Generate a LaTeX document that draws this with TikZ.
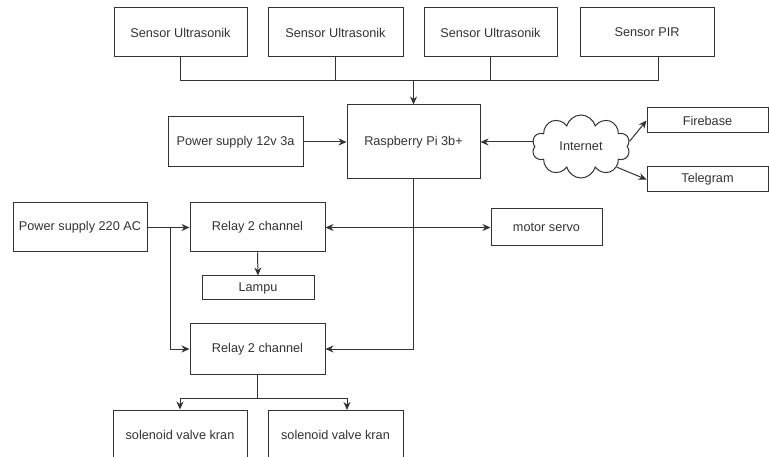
\documentclass[tikz,border=0pt]{standalone}
\usepackage{fontspec}
\setmainfont{Liberation Sans}
\usetikzlibrary{arrows.meta,shapes.symbols}
\begin{document}
\begin{tikzpicture}[x=1pt,y=-1pt,
  box/.style={draw=black!80, line width=1pt, fill=white, inner sep=0pt, font=\fontsize{12.7}{14}\selectfont, text=black!80},
  wire/.style={draw=black!80, line width=1pt},
  arr/.style={wire, -{Stealth[length=8pt,width=7pt]}},
  darr/.style={wire, {Stealth[length=8pt,width=7pt]}-{Stealth[length=8pt,width=7pt]}}]
\clip (0,0) rectangle (769,457);
\fill[white] (0,0) rectangle (769,457);
% sensors
\node[box, minimum width=133, minimum height=49] (s1) at (180.5,32.5) {Sensor Ultrasonik};
\node[box, minimum width=135, minimum height=49] (s2) at (335.5,32.5) {Sensor Ultrasonik};
\node[box, minimum width=133, minimum height=49] (s3) at (490.5,32.5) {Sensor Ultrasonik};
\node[box, minimum width=134, minimum height=49] (s4) at (647,32.5) {Sensor PIR};
% middle row
\node[box, minimum width=133, minimum height=74] (rp) at (413.5,142) {Raspberry Pi 3b+};
\node[box, minimum width=135, minimum height=50] (ps12) at (235.5,142) {Power supply 12v 3a};
\node[cloud, draw=black!80, line width=1pt, fill=white, cloud puffs=10, cloud ignores aspect, minimum width=98, minimum height=63, inner sep=0pt, font=\fontsize{12.7}{14}\selectfont, text=black!80] (cl) at (581,146.5) {Internet};
\node[box, minimum width=121, minimum height=25] (fb) at (707.5,120.5) {Firebase};
\node[box, minimum width=121, minimum height=25] (tg) at (707.5,179.5) {Telegram};
% lower rows
\node[box, minimum width=134, minimum height=49] (ps220) at (80,227.5) {Power supply 220 AC};
\node[box, minimum width=135, minimum height=49] (r1) at (257.5,227.5) {Relay 2 channel};
\node[box, minimum width=112, minimum height=24] (lampu) at (258,288) {Lampu};
\node[box, minimum width=111, minimum height=37] (ms) at (546.5,227.5) {motor servo};
\node[box, minimum width=135, minimum height=50] (r2) at (257.5,349) {Relay 2 channel};
\node[box, minimum width=134, minimum height=50] (sol1) at (180,435) {solenoid valve kran};
\node[box, minimum width=135, minimum height=50] (sol2) at (335.5,435) {solenoid valve kran};
% sensor bus
\coordinate (bus) at (413.5,81);
\coordinate (s4p) at (658,57);
\draw[wire] (s1.south) -- (s1.south |- bus) -- (s4p |- bus) -- (s4p);
\draw[wire] (s2.south) -- (s2.south |- bus);
\draw[wire] (s3.south) -- (s3.south |- bus);
\draw[arr] (bus) -- (rp.north);
% power and internet
\draw[arr] (ps12.east) -- (rp.west);
\draw[arr] (cl.west |- rp.east) -- (rp.east);
\draw[arr] (cl.6) -- (fb.west);
\draw[arr] (cl.-30) -- (tg.west);
% relays
\coordinate (j) at (170,227.5);
\draw[arr] (ps220.east) -- (r1.west);
\draw[arr] (j) |- (r2.west);
\draw[arr] (r1.south) -- (lampu.north);
\draw[darr] (r1.east) -- (ms.west);
\draw[arr] (rp.south) |- (r2.east);
% solenoids
\coordinate (b2) at (257.5,398);
\coordinate (sol2in) at (347,410);
\draw[wire] (r2.south) -- (b2);
\draw[arr] (b2) -| (sol1.north);
\draw[arr] (b2) -| (sol2in);
\end{tikzpicture}
\end{document}
